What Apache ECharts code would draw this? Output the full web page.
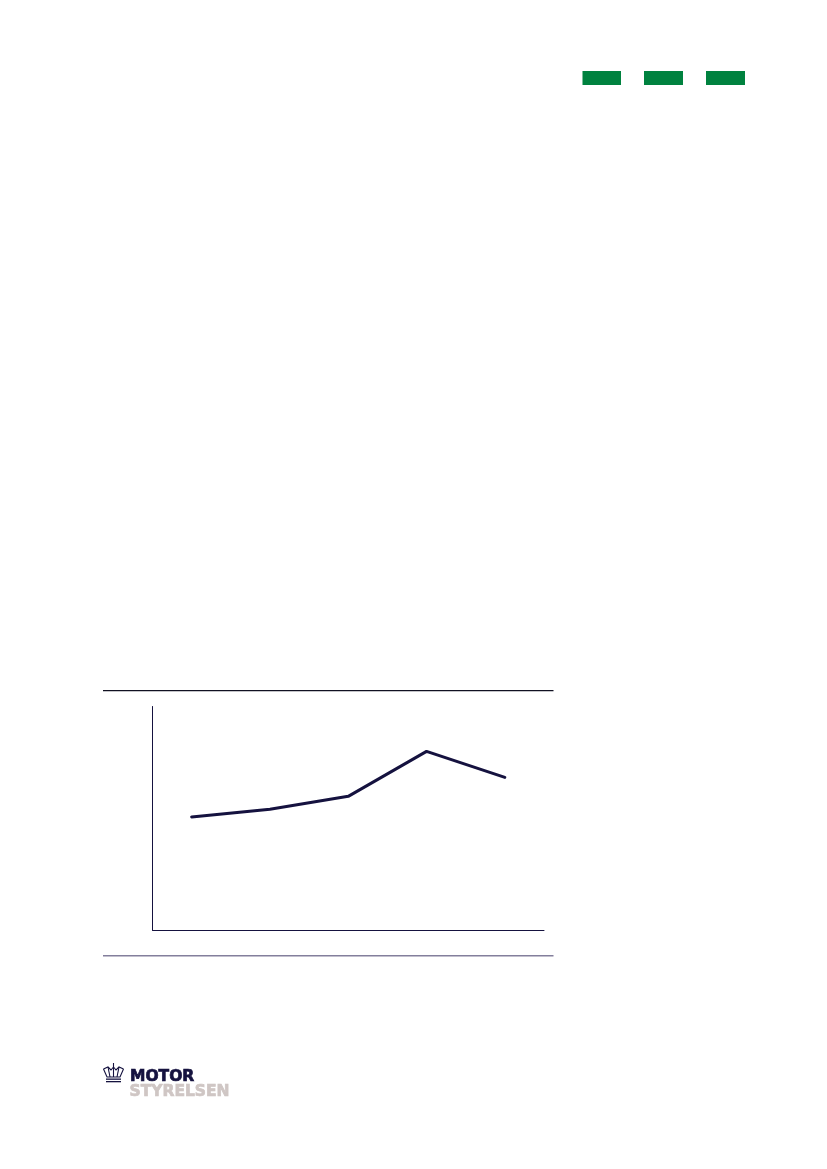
<!DOCTYPE html>
<html><head><meta charset="utf-8">
<style>html,body{margin:0;padding:0;background:#fff}#c{width:827px;height:1169px}</style>
<script src="https://cdn.jsdelivr.net/npm/echarts@6/dist/echarts.min.js"></script>
</head><body><div id="c"></div>
<script>
const categories = ['1','2','3','4','5'];
const values = [50.6, 54, 59.8, 79.9, 68.3];
const navy = '#15123f';
const green = '#00823f';
const chart = echarts.init(document.getElementById('c'), null, {renderer:'canvas'});
const rect = (x,y,w,h,fill) => ({type:'rect',shape:{x,y,width:w,height:h},style:{fill},silent:true});
const crownLine = (points) => ({type:'polyline',shape:{points},style:{stroke:navy,lineWidth:1.1,fill:null},silent:true});
chart.setOption({
  animation:false,
  backgroundColor:'#fff',
  grid:{left:152.5,top:706.5,width:391.5,height:223.5,containLabel:false},
  xAxis:{type:'category',data:categories,boundaryGap:true,
    axisLine:{show:true,lineStyle:{color:navy,width:1}},axisTick:{show:false},axisLabel:{show:false},splitLine:{show:false}},
  yAxis:{type:'value',min:0,max:100,interval:20,
    axisLine:{show:true,lineStyle:{color:navy,width:1}},axisTick:{show:false},axisLabel:{show:false},splitLine:{show:false}},
  series:[{type:'line',data:values,showSymbol:false,symbol:'none',smooth:false,
    lineStyle:{color:navy,width:3,cap:'round',join:'round'}}],
  graphic:[
    rect(582.5,71,38.5,14,green),
    rect(644,71,39,14,green),
    rect(706,71,39,14,green),
    rect(103,690,450.5,1.2,'#111122'),
    rect(103,955,450.5,1.5,'#837f9c'),
    crownLine([[103.5,1069],[107,1077],[120,1077],[123.5,1069]]),
    crownLine([[103.5,1069],[108,1067],[111,1070],[113.5,1067],[116,1070],[119,1067],[123.5,1069]]),
    crownLine([[108,1067],[110,1077]]),
    crownLine([[113.5,1067],[113.5,1077]]),
    crownLine([[119,1067],[117,1077]]),
    crownLine([[113.5,1063],[113.5,1067]]),
    rect(106,1078.5,15,1.3,navy),
    rect(106,1081,15,1.3,navy),
    {type:'text',x:130,y:1077,silent:true,style:{text:'MOTOR',fill:navy,font:'bold 15.5px "DejaVu Sans"',textVerticalAlign:'middle',stroke:navy,lineWidth:0.7}},
    {type:'text',x:129.5,y:1091.5,silent:true,style:{text:'STYRELSEN',fill:'#cfc6c4',font:'bold 15.5px "DejaVu Sans"',textVerticalAlign:'middle',stroke:'#cfc6c4',lineWidth:0.7}}
  ]
});
</script></body></html>
